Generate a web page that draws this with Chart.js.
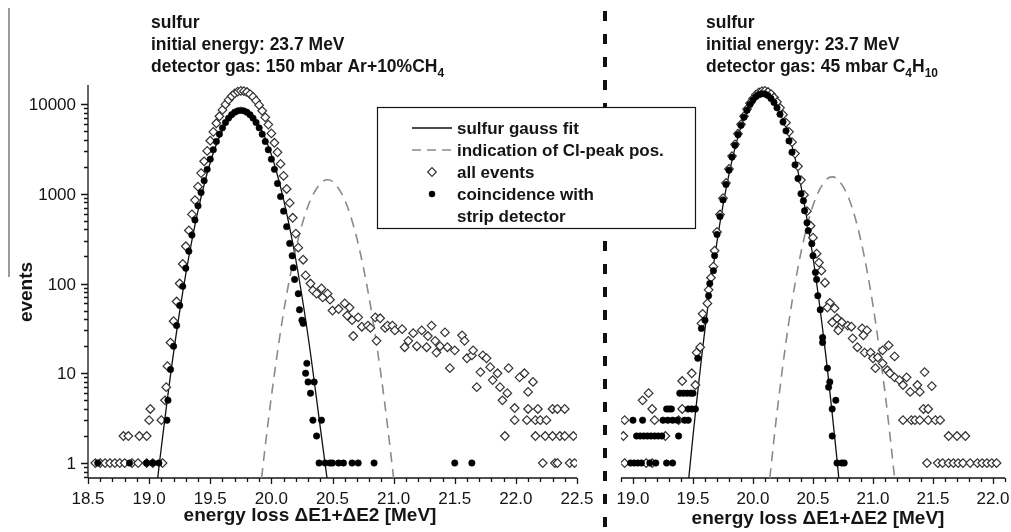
<!DOCTYPE html>
<html>
<head>
<meta charset="utf-8">
<script src="https://cdn.jsdelivr.net/npm/chart.js@4.4.1/dist/chart.umd.min.js"></script>
<style>
  html, body { margin: 0; padding: 0; background: #fff; }
  #wrap { position: relative; width: 1011px; height: 532px; overflow: hidden; }
  #wrap canvas { position: absolute; left: 0; top: 0; }
</style>
</head>
<body>
<div id="wrap">
  <canvas id="leftChart" width="1011" height="532"></canvas>
  <canvas id="rightChart" width="1011" height="532"></canvas>
</div>
<script>
// ---- data ----
const yMin = 0.681, yMax = 16280;
const yTickLabels = ['1', '10', '100', '1000', '10000'];
const leftTickLabels = ['18.5', '19.0', '19.5', '20.0', '20.5', '21.0', '21.5', '22.0', '22.5'];
const rightTickLabels = ['19.0', '19.5', '20.0', '20.5', '21.0', '21.5', '22.0'];

// left panel: 150 mbar Ar+10%CH4
const leftFitX = [19.07, 19.1, 19.2, 19.3, 19.4, 19.5, 19.6, 19.7, 19.76, 19.8, 19.9, 20.0, 20.1, 20.2, 20.3, 20.4, 20.455];
const leftFitY = [0.68, 1.5, 17, 128, 650, 2230, 5120, 7900, 8500, 8230, 5760, 2720, 860, 184, 26, 2.5, 0.68];
const leftClX = [19.92, 19.95, 20.0, 20.1, 20.2, 20.3, 20.4, 20.46, 20.5, 20.6, 20.7, 20.8, 20.9, 20.95, 21.0];
const leftClY = [0.68, 1.55, 5.5, 48, 243, 730, 1300, 1430, 1370, 855, 315, 69, 8.9, 2.6, 0.68];

const leftAllX = [
  18.56, 18.60, 18.64, 18.68, 18.72, 18.76, 18.80, 18.86, 18.91, 18.98, 19.03, 19.11,
  18.79, 18.83, 18.92, 18.98, 19.00, 19.10, 19.01, 19.13, 19.14,
  19.150, 19.175, 19.200, 19.225, 19.250, 19.275, 19.300, 19.325, 19.350, 19.375, 19.400,
  19.425, 19.450, 19.475, 19.500, 19.525, 19.550, 19.575, 19.600, 19.625, 19.650, 19.675,
  19.700, 19.725, 19.750, 19.775, 19.800, 19.825, 19.850, 19.875, 19.900, 19.925, 19.950,
  19.975, 20.000, 20.025, 20.050, 20.075, 20.100, 20.125, 20.150, 20.175, 20.200,
  20.22, 20.26, 20.28, 20.32, 20.34, 20.41, 20.37, 20.42, 20.46, 20.48, 20.50, 20.55, 20.60,
  20.62, 20.64, 20.66, 20.67, 20.71, 20.74, 20.79, 20.81, 20.85, 20.86, 20.89, 20.93, 20.95,
  20.99, 21.01, 21.07, 21.09, 21.12, 21.16, 21.19, 21.23, 21.27, 21.28, 21.31, 21.34, 21.35,
  21.38, 21.42, 21.44, 21.46, 21.50, 21.56, 21.58, 21.60, 21.64, 21.65, 21.68, 21.71, 21.73,
  21.76, 21.79, 21.81, 21.85, 21.87, 21.89, 21.93, 21.94, 21.99, 22.03, 22.07, 22.10, 22.14,
  21.91, 21.99, 22.09, 22.16, 22.20, 22.10, 22.18, 22.30, 22.34, 22.40, 22.25,
  22.16, 22.24, 22.30, 22.36, 22.40, 22.47, 22.22, 22.32, 22.34, 22.44, 22.48
];
const leftAllY = [
  1, 1, 1, 1, 1, 1, 1, 1, 1, 1, 1, 1,
  2, 2, 2, 2, 3, 3, 4, 5, 7,
  12, 22, 38, 63, 100, 165, 260, 390, 590, 850, 1200,
  1700, 2300, 3000, 3900, 4900, 6100, 7300, 8600, 9900, 11100, 12200,
  13100, 13700, 14000, 13900, 13600, 12900, 12000, 10900, 9700, 8400, 7100,
  5900, 4700, 3700, 2900, 2150, 1580, 1130, 790, 540, 360,
  251, 184, 123, 100, 84, 88, 77, 70, 77, 66, 50, 52, 60,
  44, 54, 39, 26, 42, 33, 34, 32, 42, 23, 41, 32, 34,
  34, 30, 31, 19.5, 23, 28, 20, 30, 19.5, 26, 34, 23, 17,
  20, 28.5, 19.5, 11.4, 18, 26.5, 23, 14.7, 15.8, 18, 7, 10.3, 15.8,
  14.7, 11.7, 8.4, 10, 7, 5, 6, 11.4, 4.1, 9, 10, 6.2, 8,
  2, 3, 3, 3, 3, 4, 4, 4, 4, 4, 3,
  2, 2, 2, 2, 2, 2, 1, 1, 1, 1, 1
];

const leftCoX = [
  18.58, 18.84, 18.98, 19.03, 19.08, 19.146, 19.154,
  19.175, 19.200, 19.225, 19.250, 19.275, 19.300, 19.325, 19.350, 19.375, 19.400,
  19.425, 19.450, 19.475, 19.500, 19.525, 19.550, 19.575, 19.600, 19.625, 19.650, 19.675,
  19.700, 19.725, 19.750, 19.775, 19.800, 19.825, 19.850, 19.875, 19.900, 19.925, 19.950,
  19.975, 20.000, 20.025, 20.050, 20.075, 20.100, 20.125,
  20.15, 20.17, 20.18, 20.19, 20.22, 20.23, 20.25, 20.26, 20.29, 20.28, 20.30, 20.35, 20.32,
  20.34, 20.41, 20.37, 20.39, 20.44, 20.48, 20.50, 20.55, 20.59, 20.66, 20.71, 20.84, 21.50, 21.64
];
const leftCoY = [
  1, 1, 1, 1, 1, 3, 5,
  11, 20, 34, 57, 93, 148, 229, 346, 510, 733,
  1030, 1400, 1870, 2430, 3090, 3820, 4610, 5420, 6220, 6960, 7600,
  8090, 8390, 8500, 8390, 8090, 7600, 6960, 6220, 5420, 4610, 3820,
  3090, 2430, 1870, 1300, 930, 640, 430,
  280, 204, 150, 111, 77, 51, 39, 36, 12.9, 10, 8, 8, 6,
  3, 3, 2, 1, 1, 1, 1, 1, 1, 1, 1, 1, 1, 1
];

// right panel: 45 mbar C4H10
const rightFitX = [19.465, 19.5, 19.6, 19.7, 19.8, 19.9, 20.0, 20.09, 20.1, 20.2, 20.3, 20.4, 20.5, 20.6, 20.7, 20.715];
const rightFitY = [0.68, 2.0, 31, 293, 1650, 5590, 11390, 14000, 13990, 10290, 4560, 1215, 195, 18.8, 1.09, 0.68];
const rightClX = [20.14, 20.2, 20.3, 20.4, 20.5, 20.6, 20.66, 20.7, 20.8, 20.9, 21.0, 21.1, 21.15, 21.18];
const rightClY = [0.68, 3.65, 38, 223, 741, 1389, 1540, 1471, 880, 297, 57, 6.1, 1.6, 0.68];

const rightAllX = [
  18.93, 19.11, 19.16, 18.92, 19.27, 18.93, 19.18, 19.38, 19.16, 19.41, 19.08, 19.13,
  19.52, 19.41, 19.49, 19.53, 19.56, 19.57, 19.58, 19.62, 19.63, 19.65, 19.67, 19.68,
  19.700, 19.725, 19.750, 19.775, 19.800, 19.825, 19.850, 19.875, 19.900, 19.925, 19.950,
  19.975, 20.000, 20.025, 20.050, 20.075, 20.100, 20.125, 20.150, 20.175, 20.200, 20.225,
  20.250, 20.275, 20.300, 20.325, 20.350, 20.375, 20.400, 20.425, 20.450,
  20.48, 20.50, 20.53, 20.55, 20.57, 20.60, 20.64, 20.62, 20.68, 20.70, 20.66, 20.74, 20.72,
  20.71, 20.79, 20.82, 20.83, 20.87, 20.91, 20.95, 20.92, 20.93, 20.98, 21.00, 21.02, 21.04,
  21.08, 21.08, 21.13, 21.12, 21.14, 21.18, 21.18, 21.22, 21.28, 21.25, 21.31, 21.37, 21.39,
  21.43, 21.49, 21.42, 21.46,
  21.25, 21.32, 21.35, 21.39, 21.46, 21.52, 21.56, 21.63, 21.70, 21.77,
  21.45, 21.54, 21.58, 21.63, 21.67, 21.71, 21.75, 21.81, 21.87, 21.91, 21.95, 21.99, 22.03
];
const rightAllY = [
  1, 1, 1, 2, 2, 3, 3, 3, 4, 4, 5, 6,
  7.4, 8.2, 10, 17, 19.5, 36, 46, 60, 85, 116, 154, 232,
  375, 587, 893, 1320, 1890, 2630, 3550, 4660, 5930, 7320, 8780,
  10200, 11500, 12700, 13500, 13900, 14000, 13600, 12900, 11800, 10500, 9070,
  7610, 6200, 4900, 3760, 2800, 2020, 1420, 970, 640,
  440, 324, 215, 171, 139, 102, 61, 54, 53, 41, 37, 37, 32,
  30, 34, 33, 24.5, 19.5, 31.6, 30, 26.5, 17, 17, 14.7, 11.4, 15,
  18, 12.9, 20.5, 10.8, 10, 15.4, 9, 8.4, 9, 7.4, 6.2, 7.4, 6.2,
  10.3, 7.2, 4, 4,
  3, 3, 3, 3, 3, 3, 3, 2, 2, 2,
  1, 1, 1, 1, 1, 1, 1, 1, 1, 1, 1, 1, 1
];

const rightCoX = [
  18.98, 19.01, 19.04, 19.07, 19.14, 19.19, 19.28, 19.33,
  19.03, 19.06, 19.09, 19.12, 19.15, 19.18, 19.21, 19.24, 19.38,
  19.00, 19.08, 19.25, 19.29, 19.33, 19.37, 19.43, 19.46,
  19.28, 19.30, 19.32, 19.46, 19.49, 19.52,
  19.39, 19.42, 19.45, 19.48, 19.50,
  19.54, 19.57, 19.60, 19.63, 19.64, 19.67, 19.68,
  19.700, 19.725, 19.750, 19.775, 19.800, 19.825, 19.850, 19.875, 19.900, 19.925, 19.950,
  19.975, 20.000, 20.025, 20.050, 20.075, 20.100, 20.125, 20.150, 20.175, 20.200, 20.225,
  20.250, 20.275, 20.300, 20.325, 20.350, 20.375, 20.400,
  20.42, 20.43, 20.45, 20.46, 20.49, 20.50, 20.52, 20.53, 20.54, 20.56, 20.58, 20.58,
  20.62, 20.64, 20.63, 20.69, 20.66, 20.66, 20.70, 20.74, 20.76
];
const rightCoY = [
  1, 1, 1, 1, 1, 1, 1, 1,
  2, 2, 2, 2, 2, 2, 2, 2, 2,
  3, 3, 3, 3, 3, 3, 3, 3,
  4, 4, 4, 4, 4, 4,
  6, 6, 6, 6, 6,
  14.7, 31.6, 39, 73, 100, 139, 204,
  352, 557, 854, 1270, 1830, 2560, 3460, 4550, 5780, 7130, 8520,
  9870, 11100, 12100, 12700, 13000, 12900, 12400, 11500, 10400, 9070, 7690,
  6310, 5020, 3880, 2900, 2100, 1480, 1000,
  835, 647, 476, 388, 278, 204, 133, 111, 73, 51, 25, 22,
  11.4, 8, 7, 5, 4, 2, 1, 1, 1
];

// ---- drawing ----
const FONT = '"Liberation Sans", Arial, Helvetica, sans-serif';
const INK = '#151515';

const pts = (xs, ys) => xs.map((x, i) => ({ x, y: ys[i] }));

function panelDatasets(fitX, fitY, clX, clY, allX, allY, coX, coY) {
  return [
    { type: 'line', label: 'sulfur gauss fit', data: pts(fitX, fitY), borderColor: '#111',
      borderWidth: 1.3, pointRadius: 0, cubicInterpolationMode: 'monotone', order: 4 },
    { type: 'line', label: 'indication of Cl-peak pos.', data: pts(clX, clY), borderColor: '#8a8a8a',
      borderWidth: 1.6, borderDash: [10, 7], pointRadius: 0, cubicInterpolationMode: 'monotone', order: 3 },
    { label: 'all events', data: pts(allX, allY), pointStyle: 'rectRot', pointRadius: 4.3,
      borderWidth: 1.2, borderColor: '#333', backgroundColor: '#fff', showLine: false, order: 2 },
    { label: 'coincidence with strip detector', data: pts(coX, coY), pointStyle: 'circle', pointRadius: 3.2,
      borderWidth: 0.6, borderColor: '#000', backgroundColor: '#000', showLine: false, order: 1 }
  ];
}

function drawXAxis(chart, labels, titleX, titleBase) {
  const { ctx, chartArea: a, scales: { x } } = chart;
  ctx.save();
  ctx.strokeStyle = INK;
  ctx.lineWidth = 1.3;
  ctx.beginPath();
  ctx.moveTo(a.left, a.bottom);
  ctx.lineTo(a.right, a.bottom);
  for (let v = Math.round(x.min * 10); v <= Math.round(x.max * 10); v++) {
    const px = Math.round(x.getPixelForValue(v / 10)) + 0.5;
    ctx.moveTo(px, a.bottom);
    ctx.lineTo(px, a.bottom + (v % 5 === 0 ? 6 : 4));
  }
  ctx.stroke();
  ctx.fillStyle = INK;
  ctx.font = '17px ' + FONT;
  ctx.textAlign = 'center';
  ctx.textBaseline = 'alphabetic';
  labels.forEach(s => ctx.fillText(s, x.getPixelForValue(parseFloat(s)), 504));
  ctx.font = 'bold 19px ' + FONT;
  ctx.fillText('energy loss \u0394E1+\u0394E2 [MeV]', titleX, titleBase);
  ctx.restore();
}

function drawYAxis(chart) {
  const { ctx, chartArea: a, scales: { y } } = chart;
  ctx.save();
  ctx.strokeStyle = INK;
  ctx.lineWidth = 1.3;
  ctx.beginPath();
  ctx.moveTo(a.left, a.top);
  ctx.lineTo(a.left, a.bottom);
  for (let d = -1; d <= 4; d++) {
    for (let k = 1; k <= 9; k++) {
      const v = k * Math.pow(10, d);
      if (v < y.min || v > y.max) continue;
      const py = Math.round(y.getPixelForValue(v)) + 0.5;
      ctx.moveTo(a.left, py);
      ctx.lineTo(a.left - (k === 1 ? 7 : 4), py);
    }
  }
  ctx.stroke();
  ctx.fillStyle = INK;
  ctx.font = '17px ' + FONT;
  ctx.textAlign = 'right';
  ctx.textBaseline = 'alphabetic';
  yTickLabels.forEach(s => ctx.fillText(s, a.left - 12, y.getPixelForValue(parseFloat(s)) + 6));
  ctx.font = 'bold 19px ' + FONT;
  ctx.textAlign = 'center';
  ctx.translate(32, 292);
  ctx.rotate(-Math.PI / 2);
  ctx.fillText('events', 0, 0);
  ctx.restore();
}

function drawTitle(ctx, x, lines) {
  const bases = [28, 50, 72];
  ctx.save();
  ctx.fillStyle = INK;
  ctx.textAlign = 'left';
  ctx.textBaseline = 'alphabetic';
  lines.forEach((segs, i) => {
    let cx = x;
    segs.forEach(([t, sub]) => {
      ctx.font = (sub ? 'bold 12px ' : 'bold 17.5px ') + FONT;
      ctx.fillText(t, cx, bases[i] + (sub ? 5 : 0));
      cx += ctx.measureText(t).width;
    });
  });
  ctx.restore();
}

const leftDecor = {
  id: 'leftDecor',
  beforeDatasetsDraw(chart) {
    const ctx = chart.ctx;
    ctx.save();
    ctx.strokeStyle = '#7a7a7a';
    ctx.lineWidth = 1.5;
    ctx.beginPath();
    ctx.moveTo(9, 8);
    ctx.lineTo(9, 277);
    ctx.stroke();
    ctx.restore();
    drawXAxis(chart, leftTickLabels, 310, 521);
    drawYAxis(chart);
  },
  afterDraw(chart) {
    drawTitle(chart.ctx, 151, [
      [['sulfur', 0]],
      [['initial energy: 23.7 MeV', 0]],
      [['detector gas: 150 mbar Ar+10%CH', 0], ['4', 1]]
    ]);
  }
};

const rightDecor = {
  id: 'rightDecor',
  beforeDatasetsDraw(chart) {
    const ctx = chart.ctx;
    ctx.save();
    ctx.strokeStyle = '#111';
    ctx.lineWidth = 4;
    ctx.setLineDash([10, 13]);
    ctx.lineDashOffset = 12;
    ctx.beginPath();
    ctx.moveTo(605, 0);
    ctx.lineTo(605, 532);
    ctx.stroke();
    ctx.restore();
    drawXAxis(chart, rightTickLabels, 818, 524);
  },
  afterDraw(chart) {
    const ctx = chart.ctx;
    drawTitle(ctx, 706, [
      [['sulfur', 0]],
      [['initial energy: 23.7 MeV', 0]],
      [['detector gas: 45 mbar C', 0], ['4', 1], ['H', 0], ['10', 1]]
    ]);
    // legend
    const ds = chart.data.datasets;
    ctx.save();
    ctx.fillStyle = '#fff';
    ctx.fillRect(377, 107, 318, 121);
    ctx.strokeStyle = INK;
    ctx.lineWidth = 1.2;
    ctx.strokeRect(377.5, 107.5, 318, 121);
    const sx = 432, tx = 457;
    ctx.lineWidth = ds[0].borderWidth;
    ctx.strokeStyle = ds[0].borderColor;
    ctx.beginPath(); ctx.moveTo(412, 128); ctx.lineTo(452, 128); ctx.stroke();
    ctx.strokeStyle = ds[1].borderColor;
    ctx.lineWidth = ds[1].borderWidth;
    ctx.setLineDash([9, 6]);
    ctx.beginPath(); ctx.moveTo(412, 150); ctx.lineTo(452, 150); ctx.stroke();
    ctx.setLineDash([]);
    const r = ds[2].pointRadius;
    ctx.fillStyle = '#fff';
    ctx.strokeStyle = ds[2].borderColor;
    ctx.lineWidth = ds[2].borderWidth;
    ctx.beginPath();
    ctx.moveTo(sx - r, 172); ctx.lineTo(sx, 172 - r); ctx.lineTo(sx + r, 172); ctx.lineTo(sx, 172 + r);
    ctx.closePath(); ctx.fill(); ctx.stroke();
    ctx.fillStyle = '#000';
    ctx.beginPath(); ctx.arc(sx, 194, ds[3].pointRadius, 0, Math.PI * 2); ctx.fill();
    ctx.fillStyle = INK;
    ctx.font = 'bold 17px ' + FONT;
    ctx.textAlign = 'left';
    ctx.textBaseline = 'alphabetic';
    ctx.fillText('sulfur gauss fit', tx, 134);
    ctx.fillText('indication of Cl-peak pos.', tx, 156);
    ctx.fillText('all events', tx, 178);
    ctx.fillText('coincidence with', tx, 200);
    ctx.fillText('strip detector', tx, 222);
    ctx.restore();
  }
};

function makePanel(id, xMin, xMax, padding, datasets, plugin) {
  return new Chart(document.getElementById(id), {
    type: 'scatter',
    data: { datasets },
    options: {
      responsive: false,
      animation: false,
      devicePixelRatio: 1,
      events: [],
      layout: { padding },
      plugins: { legend: { display: false }, tooltip: { enabled: false } },
      scales: {
        x: { type: 'linear', min: xMin, max: xMax, display: false },
        y: { type: 'logarithmic', min: yMin, max: yMax, display: false }
      }
    },
    plugins: [plugin]
  });
}

makePanel('leftChart', 18.5, 22.5, { left: 88, right: 434, top: 85, bottom: 54 },
  panelDatasets(leftFitX, leftFitY, leftClX, leftClY, leftAllX, leftAllY, leftCoX, leftCoY), leftDecor);
makePanel('rightChart', 18.9, 22.1, { left: 621, right: 6, top: 85, bottom: 54 },
  panelDatasets(rightFitX, rightFitY, rightClX, rightClY, rightAllX, rightAllY, rightCoX, rightCoY), rightDecor);
</script>
</body>
</html>
